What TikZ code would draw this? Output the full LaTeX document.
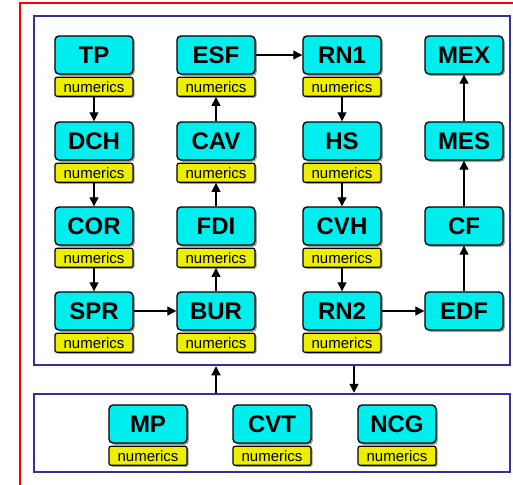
\documentclass[tikz,border=0pt]{standalone}
\usepackage{fontspec}
\setmainfont{Liberation Sans}
\usetikzlibrary{arrows.meta, positioning, shadows}

\definecolor{modcyan}{RGB}{0,238,238}
\definecolor{numyellow}{RGB}{238,238,0}
\definecolor{panelblue}{RGB}{51,51,150}

\begin{document}
\begin{tikzpicture}[
  x=1pt, y=-1pt,
  modbox/.style={draw, line width=1.4pt, rounded corners=4pt, fill=modcyan,
                 minimum width=78pt, minimum height=38pt, inner sep=0pt,
                 font=\fontsize{24}{24}\selectfont\bfseries,
                 drop shadow={shadow xshift=1.8pt, shadow yshift=-1.8pt, opacity=.75}},
  numbox/.style={draw, line width=1.2pt, rounded corners=2pt, fill=numyellow,
                 minimum width=78pt, minimum height=19pt, inner sep=0pt,
                 font=\fontsize{15}{15}\selectfont,
                 drop shadow={shadow xshift=1.5pt, shadow yshift=-1.5pt, opacity=.75}},
  panel/.style={draw=panelblue, line width=2.5pt, inner sep=0pt},
  frame/.style={draw=red, line width=2pt},
  flow/.style={-{Triangle[length=9pt, width=9pt]}, line width=1.2pt}
]
\useasboundingbox (0,0) rectangle (513,484);
\clip (0,0) rectangle (513,484);

% outer frame and panels
\draw[frame] (19.5,3.5) rectangle (560,520);
\node[panel, minimum width=476pt, minimum height=349pt] (upper) at (272,190.5) {};
\node[panel, minimum width=476pt, minimum height=78pt] (lower) at (272,433) {};

% first column
\node[modbox] (tp) at (94,55) {TP};
\node[numbox, below=2pt of tp] (tpnum) {numerics};
\node[modbox] (dch) at (94,141) {DCH};
\node[numbox, below=2pt of dch] (dchnum) {numerics};
\node[modbox] (cor) at (94,226) {COR};
\node[numbox, below=2pt of cor] (cornum) {numerics};
\node[modbox] (spr) at (94,311) {SPR};
\node[numbox, below=2pt of spr] (sprnum) {numerics};

% second column
\node[modbox] (esf) at (216,55) {ESF};
\node[numbox, below=2pt of esf] (esfnum) {numerics};
\node[modbox] (cav) at (216,141) {CAV};
\node[numbox, below=2pt of cav] (cavnum) {numerics};
\node[modbox] (fdi) at (216,226) {FDI};
\node[numbox, below=2pt of fdi] (fdinum) {numerics};
\node[modbox] (bur) at (216,311) {BUR};
\node[numbox, below=2pt of bur] (burnum) {numerics};

% third column
\node[modbox] (rn1) at (342,55) {RN1};
\node[numbox, below=2pt of rn1] (rn1num) {numerics};
\node[modbox] (hs) at (342,141) {HS};
\node[numbox, below=2pt of hs] (hsnum) {numerics};
\node[modbox] (cvh) at (342,226) {CVH};
\node[numbox, below=2pt of cvh] (cvhnum) {numerics};
\node[modbox] (rn2) at (342,311) {RN2};
\node[numbox, below=2pt of rn2] (rn2num) {numerics};

% fourth column
\node[modbox] (mex) at (464,55) {MEX};
\node[modbox] (mes) at (464,141) {MES};
\node[modbox] (cf) at (464,226) {CF};
\node[modbox] (edf) at (464,311) {EDF};

% lower panel
\node[modbox] (mp) at (148,424) {MP};
\node[numbox, below=2pt of mp] (mpnum) {numerics};
\node[modbox] (cvt) at (272,424) {CVT};
\node[numbox, below=2pt of cvt] (cvtnum) {numerics};
\node[modbox] (ncg) at (397,424) {NCG};
\node[numbox, below=2pt of ncg] (ncgnum) {numerics};

\draw[flow] (tpnum) -- (dch);
\draw[flow] (dchnum) -- (cor);
\draw[flow] (cornum) -- (spr);
\draw[flow] (spr) -- (bur);
\draw[flow] (bur) -- (fdinum);
\draw[flow] (fdi) -- (cavnum);
\draw[flow] (cav) -- (esfnum);
\draw[flow] (esf) -- (rn1);
\draw[flow] (rn1num) -- (hs);
\draw[flow] (hsnum) -- (cvh);
\draw[flow] (cvhnum) -- (rn2);
\draw[flow] (rn2) -- (edf);
\draw[flow] (edf) -- (cf);
\draw[flow] (cf) -- (mes);
\draw[flow] (mes) -- (mex);

\draw[flow] (lower.north -| bur) -- (upper.south -| bur);
\draw[flow] ([xshift=12pt]upper.south -| rn2) -- ([xshift=12pt]lower.north -| rn2);

\end{tikzpicture}
\end{document}
